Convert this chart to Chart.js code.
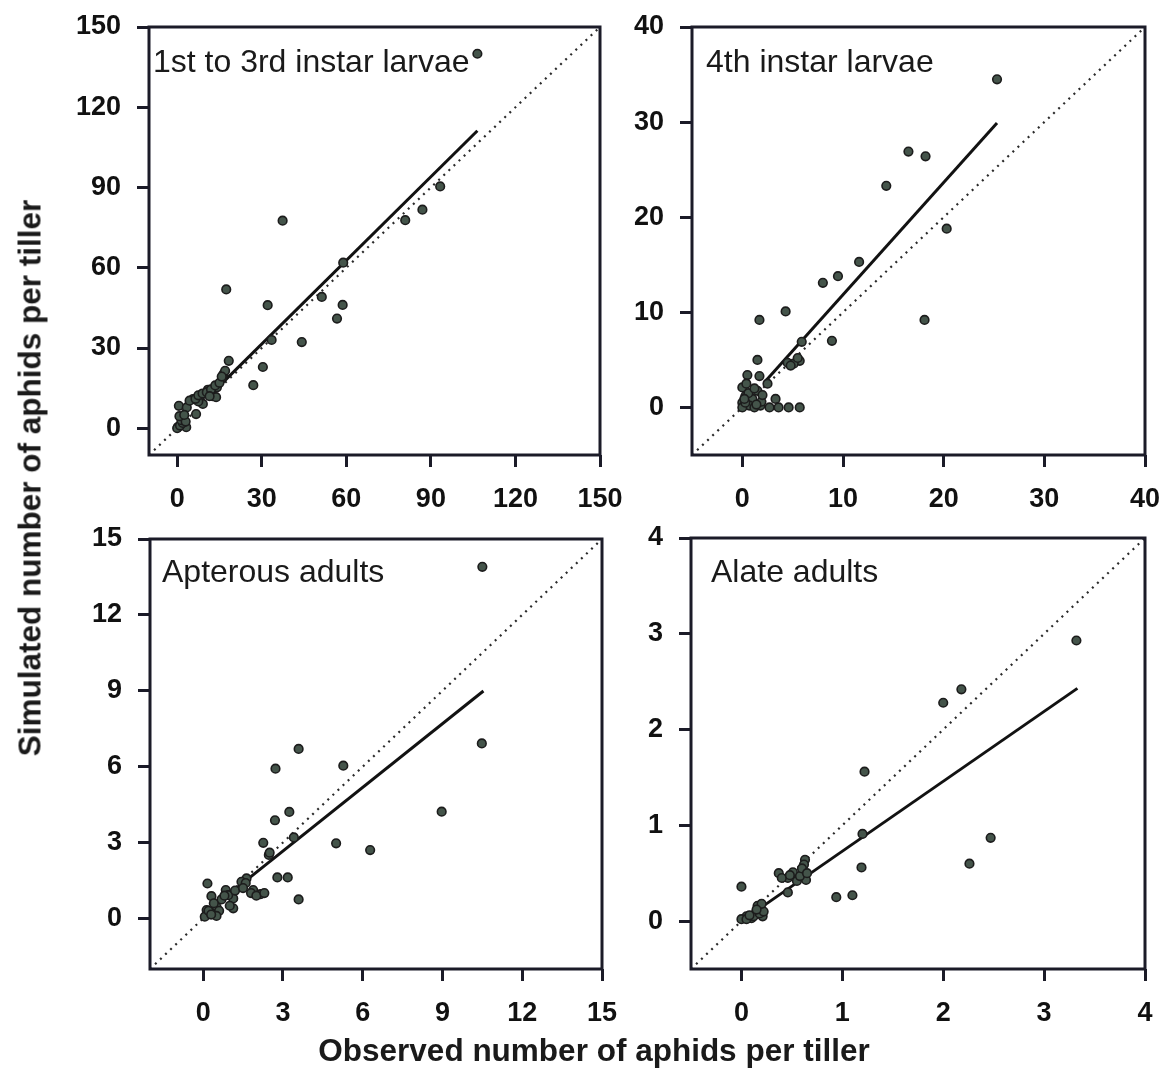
<!DOCTYPE html>
<html>
<head>
<meta charset="utf-8">
<script src="https://cdn.jsdelivr.net/npm/chart.js@4/dist/chart.umd.min.js"></script>
<style>
  html, body { margin: 0; padding: 0; background: #ffffff; }
  body { width: 1165px; height: 1078px; position: relative; overflow: hidden; font-family: "Liberation Sans", Arial, sans-serif; }
  canvas { position: absolute; }
  .axis-title { position: absolute; font-weight: bold; font-size: 31.5px; color: #1a1a1a; white-space: nowrap; }
  #ytitle { left: 30px; top: 478px; transform: translate(-50%, -50%) rotate(-90deg); }
  #xtitle { left: 594px; top: 1050px; transform: translate(-50%, -50%); }
</style>
</head>
<body>
<canvas id="c1"></canvas>
<canvas id="c2"></canvas>
<canvas id="c3"></canvas>
<canvas id="c4"></canvas>
<div class="axis-title" id="ytitle">Simulated number of aphids per tiller</div>
<div class="axis-title" id="xtitle">Observed number of aphids per tiller</div>
<script>
// ---- 1st to 3rd instar larvae ----
const larvaeEarlyObserved = [106.5, 93.3, 87.0, 80.9, 37.4, 58.9, 51.3, 58.7, 56.7, 17.4, 32.1, 33.5, 44.2, 30.4, 27.0, 18.3, 16.4, 16.0, 14.1, 10.9, 8.5, 5.6, 9.1, 6.7, 0.6, 3.4, 2.0, 0.2, 1.4, 3.2, 0.0, 12.5, 7.5,
  1.0, 2.0, 1.5, 3.0, 0.8, 2.5, 4.4, 6.5, 7.5, 9.0, 10.5, 12.0, 13.5, 15.0, 13.8, 11.5, 17.0, 15.8];
const larvaeEarlySimulated = [140.0, 90.4, 81.7, 77.8, 77.6, 61.9, 49.1, 46.1, 41.0, 51.9, 46.0, 33.0, 32.2, 22.9, 16.1, 25.2, 20.2, 19.0, 15.3, 14.4, 12.4, 10.9, 9.1, 5.3, 8.4, 7.8, 3.5, 0.4, 1.6, 0.4, 0.0, 12.0, 10.0,
  1.0, 2.0, 3.0, 2.5, 4.5, 5.0, 10.3, 11.0, 12.3, 13.0, 13.5, 14.5, 16.0, 17.0, 11.6, 12.0, 21.5, 19.3];
const larvaeEarlyFit = [[14, 14.8], [106.5, 111.2]];
const larvaeEarlyTicks = [0, 30, 60, 90, 120, 150];

// ---- 4th instar larvae ----
const larvae4Observed = [25.3, 16.5, 18.2, 14.3, 20.3, 11.6, 9.5, 8.0, 4.3, 1.7, 18.1, 8.9, 5.9, 1.5, 5.7, 4.5, 5.1, 0.5, 1.7, 2.5, 0.0, 1.5, 0.3, 1.0, 0.0, 0.7, 0.0, 1.2, 3.3, 2.7, 3.6, 4.6, 5.7, 1.8,
  0.3, 0.6, 1.2, 0.4, 1.9, 2.0, 0.2, 1.4, 4.8, 5.5];
const larvae4Simulated = [34.5, 26.9, 26.4, 23.3, 18.8, 15.3, 13.8, 13.1, 10.1, 9.2, 9.2, 7.0, 6.9, 5.0, 4.9, 4.7, 4.6, 3.4, 3.3, 2.5, 2.1, 1.75, 1.2, 0.9, 0.5, 0.2, 0.0, 0.0, 0.9, 0.0, 0.0, 0.0, 0.0, 0.2,
  0.5, 1.5, 2.0, 2.5, 0.6, 1.3, 0.9, 0.3, 4.4, 5.2];
const larvae4Fit = [[2.2, 2.65], [25.3, 29.9]];
const larvae4Ticks = [0, 10, 20, 30, 40];

// ---- Apterous adults ----
const apterousObserved = [10.5, 10.48, 8.97, 6.28, 5.0, 5.27, 3.59, 2.72, 3.24, 2.70, 3.41, 2.26, 2.47, 2.79, 3.18, 3.59, 1.63, 1.88, 2.16, 0.16, 0.31, 0.85, 1.13, 0.69, 1.13, 0.5, 0.13, 0.06, 0.31, 0.94, 1.44,
  0.2, 0.4, 0.6, 0.8, 1.0, 1.2, 0.5, 0.3, 1.6, 1.8, 2.0, 2.3, 1.5, 2.5];
const apterousSimulated = [13.9, 6.92, 4.22, 2.70, 2.97, 6.04, 6.70, 5.92, 4.21, 3.88, 3.20, 2.99, 2.51, 1.62, 1.62, 0.75, 1.58, 1.12, 0.96, 1.38, 0.88, 1.12, 0.79, 0.75, 0.40, 0.46, 0.33, 0.07, 0.20, 0.92, 1.45,
  0.3, 0.6, 0.3, 0.9, 0.5, 1.1, 0.1, 0.15, 1.4, 1.0, 0.9, 1.0, 1.2, 2.6];
const apterousFit = [[0.9, 0.9], [10.54, 8.99]];
const apterousTicks = [0, 3, 6, 9, 12, 15];

// ---- Alate adults ----
const alateObserved = [3.32, 2.18, 2.0, 1.22, 1.2, 2.47, 2.26, 1.19, 1.10, 0.94, 0.0, 0.63, 0.62, 0.64, 0.51, 0.37, 0.46, 0.55, 0.46, 0.18, 0.16, 0.21, 0.05, 0.0, 0.1, 0.16,
  0.05, 0.12, 0.18, 0.22, 0.2, 0.08, 0.15, 0.4, 0.48, 0.58, 0.6, 0.65];
const alateSimulated = [2.93, 2.42, 2.28, 1.56, 0.91, 0.87, 0.60, 0.56, 0.27, 0.25, 0.36, 0.64, 0.59, 0.43, 0.51, 0.50, 0.45, 0.42, 0.30, 0.16, 0.10, 0.05, 0.05, 0.02, 0.03, 0.16,
  0.02, 0.05, 0.08, 0.10, 0.18, 0.06, 0.12, 0.45, 0.48, 0.47, 0.55, 0.50];
const alateFit = [[0.2, 0.146], [3.33, 2.43]];
const alateTicks = [0, 1, 2, 3, 4];

const INK = '#1b1b28';
const TICK_FONT = { family: '"Liberation Sans", Arial, sans-serif', size: 27, weight: 'bold' };

// Frame around the plotting area plus the panel caption
const framePlugin = {
  id: 'panelFrame',
  afterDraw(chart, args, opts) {
    const { ctx, chartArea: a } = chart;
    ctx.save();
    ctx.strokeStyle = INK;
    ctx.lineWidth = 3;
    ctx.strokeRect(a.left, a.top, a.right - a.left, a.bottom - a.top);
    ctx.fillStyle = '#1a1a1a';
    ctx.font = '32px "Liberation Sans", Arial, sans-serif';
    ctx.textBaseline = 'alphabetic';
    ctx.fillText(opts.caption, a.left + opts.dx, a.top + opts.dy);
    ctx.restore();
  }
};

function toPoints(xs, ys) { return xs.map((x, i) => ({ x: x, y: ys[i] })); }

function makePanel(id, box, obs, sim, fit, ticks, lo, caption, dx, dy) {
  const L = 110, T = 20, R = 40, B = 70;
  const cv = document.getElementById(id);
  const w = box.right - box.left + L + R;
  const h = box.bottom - box.top + T + B;
  cv.style.left = (box.left - L) + 'px';
  cv.style.top = (box.top - T) + 'px';
  cv.style.width = w + 'px';
  cv.style.height = h + 'px';
  cv.width = w; cv.height = h;
  const hi = ticks[ticks.length - 1];
  const axis = (pos) => ({
    type: 'linear', position: pos, min: lo, max: hi,
    afterBuildTicks: (s) => { s.ticks = ticks.map(v => ({ value: v })); },
    afterFit: (s) => {
      if (pos === 'left') s.width = L; else s.height = B;
      // the outer padding already leaves room for the end labels
      s.paddingTop = 0; s.paddingBottom = 0; s.paddingLeft = 0; s.paddingRight = 0;
    },
    border: { display: false },
    grid: { drawOnChartArea: false, drawTicks: true, tickLength: 12, color: INK, lineWidth: 3 },
    ticks: { font: TICK_FONT, color: '#111111', padding: 16, maxRotation: 0, autoSkip: false }
  });
  new Chart(cv, {
    type: 'scatter',
    data: {
      datasets: [
        { data: toPoints(obs, sim), pointRadius: 4.3, pointBackgroundColor: '#44544a', pointBorderColor: '#1c1c1c', pointBorderWidth: 1.6, showLine: false },
        { data: fit.map(p => ({ x: p[0], y: p[1] })), showLine: true, pointRadius: 0, borderColor: '#121212', borderWidth: 3 },
        { data: [{ x: lo, y: lo }, { x: hi, y: hi }], showLine: true, pointRadius: 0, borderColor: '#2a2a2a', borderWidth: 2.2, borderDash: [2, 5] }
      ]
    },
    options: {
      responsive: false, animation: false, devicePixelRatio: 1,
      layout: { padding: { left: 0, top: T, right: R, bottom: 0 } },
      plugins: { legend: { display: false }, tooltip: { enabled: false }, panelFrame: { caption: caption, dx: dx, dy: dy } },
      scales: { x: axis('bottom'), y: axis('left') }
    },
    plugins: [framePlugin]
  });
}

makePanel('c1', { left: 149, right: 600, top: 27, bottom: 455 }, larvaeEarlyObserved, larvaeEarlySimulated, larvaeEarlyFit, larvaeEarlyTicks, -10, '1st to 3rd instar larvae', 4, 45);
makePanel('c2', { left: 692, right: 1145, top: 27, bottom: 455 }, larvae4Observed, larvae4Simulated, larvae4Fit, larvae4Ticks, -5, '4th instar larvae', 14, 45);
makePanel('c3', { left: 150, right: 602, top: 539, bottom: 969 }, apterousObserved, apterousSimulated, apterousFit, apterousTicks, -2, 'Apterous adults', 12, 43);
makePanel('c4', { left: 691, right: 1145, top: 538, bottom: 969 }, alateObserved, alateSimulated, alateFit, alateTicks, -0.5, 'Alate adults', 20, 44);
</script>
</body>
</html>
